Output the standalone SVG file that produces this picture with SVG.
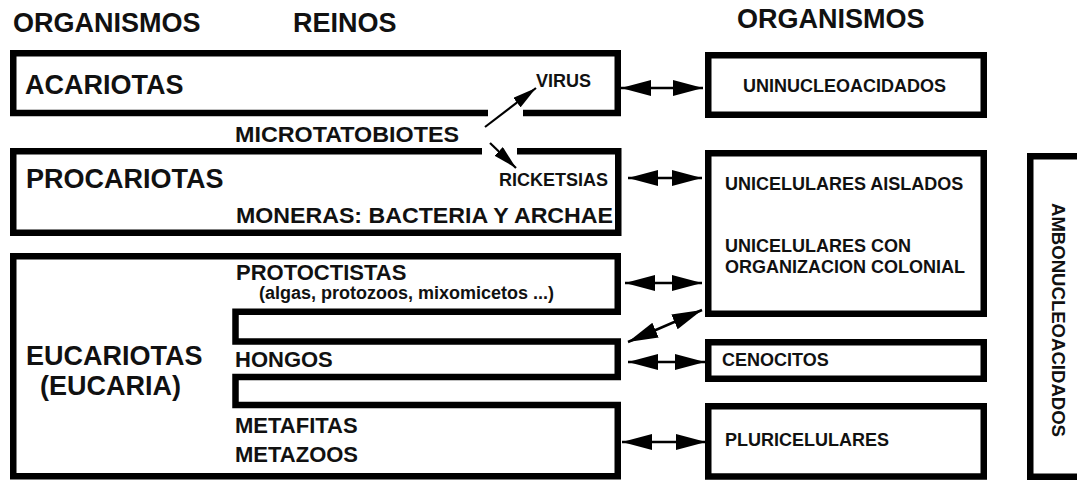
<svg xmlns="http://www.w3.org/2000/svg" width="1077" height="480" viewBox="0 0 1077 480">
<style>
  .box { fill: none; stroke: #000; stroke-width: 6.5; stroke-linejoin: miter; }
  .t27 { font-family: "Liberation Sans", Arial, sans-serif; font-weight: bold; font-size: 27px; fill: #111; }
  .t22 { font-family: "Liberation Sans", Arial, sans-serif; font-weight: bold; font-size: 22px; fill: #111; }
  .t18 { font-family: "Liberation Sans", Arial, sans-serif; font-weight: bold; font-size: 18px; fill: #111; }
  .conn { stroke: #000; stroke-width: 2.5; fill: none; }
  .big { marker-start: url(#ah); marker-end: url(#ah); }
  .small { stroke-width: 2.2; marker-end: url(#sh); }
</style>
<defs>
  <marker id="ah" viewBox="0 0 30 16" refX="30" refY="8" markerWidth="30" markerHeight="16" markerUnits="userSpaceOnUse" orient="auto-start-reverse">
    <path d="M0,0 L30,8 L0,16 Z" fill="#000"/>
  </marker>
  <marker id="sh" viewBox="0 0 24 12" refX="24" refY="6" markerWidth="24" markerHeight="12" markerUnits="userSpaceOnUse" orient="auto">
    <path d="M0,0 L24,6 L0,12 Z" fill="#000"/>
  </marker>
</defs>
<rect width="1077" height="480" fill="#fff"/>

<g id="headers">
  <text class="t27" x="13" y="32">ORGANISMOS</text>
  <text class="t27" x="293" y="32">REINOS</text>
  <text class="t27" x="737" y="28">ORGANISMOS</text>
</g>

<g id="acariotas">
  <path class="box" d="M488 113 H13.25 V53.25 H617.75 V113 H523"/>
  <text class="t27" x="25" y="94">ACARIOTAS</text>
  <text class="t18" x="536" y="87">VIRUS</text>
</g>

<g id="microtatobiotes">
  <text class="t22" x="235" y="142" textLength="224" lengthAdjust="spacingAndGlyphs">MICROTATOBIOTES</text>
</g>

<g id="procariotas">
  <path class="box" d="M482 151.25 H13.25 V232.75 H618.25 V151.25 H517"/>
  <text class="t27" x="26" y="188">PROCARIOTAS</text>
  <text class="t18" x="499" y="186">RICKETSIAS</text>
  <text class="t22" x="236" y="223" textLength="377" lengthAdjust="spacingAndGlyphs">MONERAS: BACTERIA Y ARCHAE</text>
</g>

<g id="eucariotas">
  <path class="box" d="M13.25 256.25 H617.75 V311.75 H235.5 V341.5 H617.75 V377 H235.5 V405 H617.75 V476.25 H13.25 Z"/>
  <text class="t27" x="26" y="365">EUCARIOTAS</text>
  <text class="t27" x="40" y="395">(EUCARIA)</text>
  <text class="t22" x="236" y="280">PROTOCTISTAS</text>
  <text class="t18" x="259" y="299">(algas, protozoos, mixomicetos ...)</text>
  <text class="t22" x="235" y="367">HONGOS</text>
  <text class="t22" x="235" y="433">METAFITAS</text>
  <text class="t22" x="235" y="462">METAZOOS</text>
</g>

<g id="uninucleoacidados">
  <rect class="box" x="708.25" y="55.25" width="275.5" height="59.5"/>
  <text class="t18" x="743" y="92">UNINUCLEOACIDADOS</text>
</g>

<g id="unicelulares">
  <rect class="box" x="708.25" y="153.25" width="275.5" height="160.5"/>
  <text class="t18" x="725" y="190">UNICELULARES AISLADOS</text>
  <text class="t18" x="725" y="252">UNICELULARES CON</text>
  <text class="t18" x="725" y="273">ORGANIZACION COLONIAL</text>
</g>

<g id="cenocitos">
  <rect class="box" x="708.25" y="342.25" width="275.5" height="36.5"/>
  <text class="t18" x="722" y="366">CENOCITOS</text>
</g>

<g id="pluricelulares">
  <rect class="box" x="708.25" y="406.25" width="275.5" height="70.25"/>
  <text class="t18" x="725" y="446">PLURICELULARES</text>
</g>

<g id="ambonucleoacidados">
  <rect class="box" x="1030.25" y="156.25" width="60" height="320.5"/>
  <text class="t18" transform="translate(1052,203) rotate(90)" x="0" y="0" textLength="234" lengthAdjust="spacingAndGlyphs">AMBONUCLEOACIDADOS</text>
</g>

<g id="connectors">
  <line class="conn big" x1="621" y1="88" x2="703" y2="88"/>
  <line class="conn big" x1="628" y1="178" x2="702" y2="178"/>
  <line class="conn big" x1="625" y1="283" x2="702" y2="283"/>
  <line class="conn big" x1="628" y1="342" x2="702" y2="310"/>
  <line class="conn big" x1="628" y1="362" x2="705" y2="362"/>
  <line class="conn big" x1="622" y1="442" x2="706" y2="442"/>
  <line class="conn small" x1="485" y1="127" x2="536" y2="88"/>
  <line class="conn small" x1="490" y1="143" x2="516" y2="168"/>
</g>
</svg>
